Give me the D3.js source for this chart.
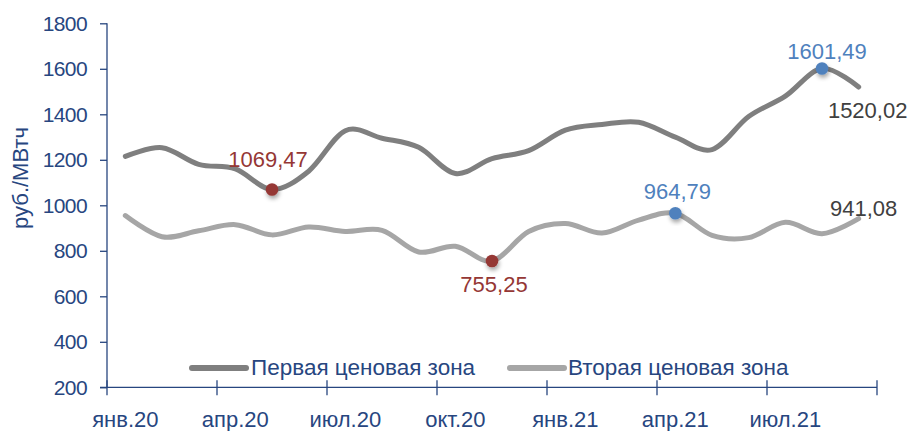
<!DOCTYPE html>
<html><head><meta charset="utf-8">
<script src="https://cdn.jsdelivr.net/npm/d3@7"></script>
<style>
html,body{margin:0;padding:0;background:#fff;}
svg{display:block;font-family:"Liberation Sans",Arial,sans-serif;}
</style></head>
<body>
<svg id="chart" width="916" height="431"></svg>
<script>
const months = ["янв.20","фев.20","мар.20","апр.20","май.20","июн.20","июл.20","авг.20","сен.20","окт.20","ноя.20","дек.20",
  "янв.21","фев.21","мар.21","апр.21","май.21","июн.21","июл.21","авг.21","сен.21"];
const tickLabels = ["янв.20","апр.20","июл.20","окт.20","янв.21","апр.21","июл.21"];
const zone1 = [1215,1253,1180,1160,1069.47,1150,1328,1295,1255,1140,1205,1240,1330,1355,1365,1300,1245,1390,1480,1601.49,1520.02];
const zone2 = [955,862,888,915,870,905,885,890,795,820,755.25,885,920,878,935,964.79,868,858,925,875,941.08];
const yTicks = [200,400,600,800,1000,1200,1400,1600,1800];
const seriesNames = ["Первая ценовая зона","Вторая ценовая зона"];
const yTitle = "руб./МВтч";
// annotated points: [series, index, text, color, dx, dy, anchor]
const annotations = [
  [0, 4, "1069,47", "#953735", -4, -22, "middle"],
  [1, 10, "755,25", "#953735", 2, 31, "middle"],
  [1, 15, "964,79", "#4F81BD", 2, -14, "middle"],
  [0, 19, "1601,49", "#4F81BD", 5, -9, "middle"],
  [0, 20, "1520,02", "#404040", 9, 31, "middle"],
  [1, 20, "941,08", "#404040", 5, -3, "middle"]
];
const markers = [[0,4,"#953735"],[1,10,"#953735"],[1,15,"#4F81BD"],[0,19,"#4F81BD"]];

const navy = "#27467f";
const svg = d3.select("#chart");
const defs = svg.append("defs");
const f = defs.append("filter").attr("id","sh").attr("x","-50%").attr("y","-50%").attr("width","200%").attr("height","200%");
f.append("feDropShadow").attr("dx",1).attr("dy",3).attr("stdDeviation",2).attr("flood-color","#000").attr("flood-opacity",0.35);

const x = d3.scaleBand().domain(months).range([107, 877]).padding(0);
const y = d3.scaleLinear().domain([200,1800]).range([387.3, 23.3]);
const cx = m => x(m) + x.bandwidth()/2;

// Y axis
const gy = svg.append("g").attr("transform","translate(107,0)")
  .call(d3.axisLeft(y).tickValues(yTicks).tickSize(7).tickPadding(13).tickFormat(d3.format("d")));
gy.select(".domain").attr("stroke",navy).attr("stroke-width",1.3).attr("d","M0,"+y(1800)+"V"+y(200));
gy.selectAll(".tick line").attr("stroke",navy).attr("stroke-width",1.3);
gy.selectAll(".tick text").attr("fill",navy).style("font-size","21px").style("letter-spacing","-0.6px");

// X axis line
svg.append("line").attr("x1",100).attr("x2",877).attr("y1",y(200)).attr("y2",y(200))
  .attr("stroke",navy).attr("stroke-width",1.3);
// X ticks at group boundaries
const tickPos = d3.range(0, months.length+1, 3).map(i => i < months.length ? x(months[i]) : x.range()[1]);
svg.append("g").selectAll("line").data(tickPos).join("line")
  .attr("x1",d=>d).attr("x2",d=>d).attr("y1",y(200)-7).attr("y2",y(200)+8)
  .attr("stroke",navy).attr("stroke-width",1.3);
// X labels
svg.append("g").selectAll("text").data(tickLabels).join("text")
  .attr("x",d=>cx(d)).attr("y",427).attr("text-anchor","middle")
  .attr("fill",navy).style("font-size","22px").text(d=>d);

// Y title
svg.append("text").attr("transform","translate(28,178) rotate(-90)").attr("text-anchor","middle")
  .attr("fill",navy).style("font-size","22px").text(yTitle);

// lines
const line = d3.line().x((d,i)=>cx(months[i])).y(d=>y(d)).curve(d3.curveCardinal.tension(0));
const series = [zone1, zone2];
const colors = ["#7f7f7f","#a6a6a6"];
series.forEach((s,k)=>{
  svg.append("path").datum(s).attr("d",line).attr("fill","none")
    .attr("stroke",colors[k]).attr("stroke-width",5).attr("stroke-linecap","round").attr("stroke-linejoin","round");
});

// markers
markers.forEach(([s,i,c])=>{
  svg.append("circle").attr("cx",cx(months[i])).attr("cy",y(series[s][i])).attr("r",6.3)
    .attr("fill",c).attr("filter","url(#sh)");
});

// annotations
annotations.forEach(([s,i,t,c,dx,dy,a])=>{
  svg.append("text").attr("x",cx(months[i])+dx).attr("y",y(series[s][i])+dy)
    .attr("text-anchor",a).attr("fill",c).style("font-size","22px").text(t);
});

// legend
const leg = [[192,246,251],[510,564,568]];
leg.forEach(([x1,x2,tx],k)=>{
  svg.append("line").attr("x1",x1).attr("x2",x2).attr("y1",368).attr("y2",368)
    .attr("stroke",colors[k]).attr("stroke-width",6).attr("stroke-linecap","round");
  svg.append("text").attr("x",tx).attr("y",375).attr("fill",navy).style("font-size","22.5px")
    .text(seriesNames[k]);
});
</script>
</body></html>
